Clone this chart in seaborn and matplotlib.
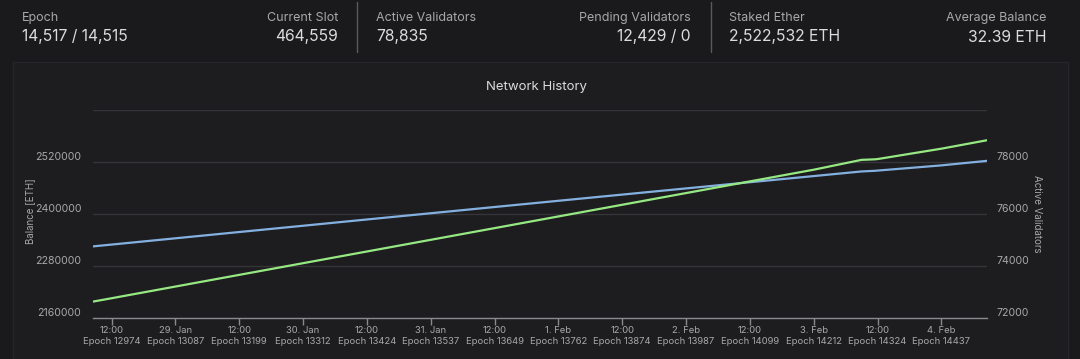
import matplotlib
matplotlib.use("Agg")
import matplotlib.pyplot as plt
from matplotlib.patches import Rectangle
import pandas as pd
import seaborn as sns

# values (Jan/Feb 2021, beacon chain)
times = ["2021-01-28 08:30", "2021-01-28 12:00", "2021-01-29 00:00", "2021-01-29 12:00",
         "2021-01-30 00:00", "2021-01-30 12:00", "2021-01-31 00:00", "2021-01-31 12:00",
         "2021-02-01 00:00", "2021-02-01 12:00", "2021-02-02 00:00", "2021-02-02 12:00",
         "2021-02-03 00:00", "2021-02-03 09:00", "2021-02-03 11:30", "2021-02-03 12:00",
         "2021-02-04 00:00", "2021-02-04 08:35"]
balance = [2324800, 2329000, 2343500, 2358000, 2372500, 2387000, 2401400, 2415800,
           2430200, 2444500, 2458800, 2473100, 2487300, 2498000, 2499500, 2500000,
           2512000, 2522500]
validators = [72620, 72750, 73200, 73650, 74100, 74550, 75000, 75450,
              75900, 76350, 76800, 77250, 77700, 78080, 78100, 78110,
              78510, 78835]

tick_times = ["2021-01-28 12:00", "2021-01-29 00:00", "2021-01-29 12:00", "2021-01-30 00:00",
              "2021-01-30 12:00", "2021-01-31 00:00", "2021-01-31 12:00", "2021-02-01 00:00",
              "2021-02-01 12:00", "2021-02-02 00:00", "2021-02-02 12:00", "2021-02-03 00:00",
              "2021-02-03 12:00", "2021-02-04 00:00"]
tick_labels = ["12:00\nEpoch 12974", "29. Jan\nEpoch 13087", "12:00\nEpoch 13199",
               "30. Jan\nEpoch 13312", "12:00\nEpoch 13424", "31. Jan\nEpoch 13537",
               "12:00\nEpoch 13649", "1. Feb\nEpoch 13762", "12:00\nEpoch 13874",
               "2. Feb\nEpoch 13987", "12:00\nEpoch 14099", "3. Feb\nEpoch 14212",
               "12:00\nEpoch 14324", "4. Feb\nEpoch 14437"]

balance_ticks = [2160000, 2280000, 2400000, 2520000, 2640000]
validator_ticks = [72000, 74000, 76000, 78000, 80000]

stat_labels = ["Epoch", "Current Slot", "Active Validators",
               "Pending Validators", "Staked Ether", "Average Balance"]
stat_values = ["14,517 / 14,515", "464,559", "78,835",
               "12,429 / 0", "2,522,532 ETH", "32.39 ETH"]

BG = "#1a191c"
CARD = "#1d1c1f"
TXT = "#dcdcdc"
SUB = "#a8a8a8"
GRID = "#353438"

sns.set_theme(style="dark")
plt.rcParams["font.family"] = ["Inter", "DejaVu Sans"]

df = pd.DataFrame({"time": pd.to_datetime(times), "balance": balance, "validators": validators})

W, H = 1080, 359
fig = plt.figure(figsize=(W / 100, H / 100), dpi=100, facecolor=BG)

# chart card
fig.patches.append(Rectangle((13 / W, -0.01), (1068 - 13) / W, (H - 62) / H + 0.01,
                             transform=fig.transFigure, facecolor=CARD,
                             edgecolor="#262529", lw=1, zorder=-5))

# header stats
pos = [(22, "left"), (338, "right"), (376, "left"), (691, "right"), (729, "left"), (1046, "right")]
for (x, ha), lab, val in zip(pos, stat_labels, stat_values):
    fig.text(x / W, 1 - 18 / H, lab, ha=ha, va="center", color=SUB, fontsize=9)
    fig.text(x / W, 1 - 37 / H, val, ha=ha, va="center", color=TXT, fontsize=11.3)
for x in (357, 711):
    fig.add_artist(plt.Line2D([x / W, x / W], [1 - 2 / H, 1 - 52 / H], color="#5a595d", lw=1))

ax = fig.add_axes([93 / W, 41.3 / H, 894 / W, 207.7 / H])
ax.set_facecolor("none")
sns.lineplot(data=df, x="time", y="balance", ax=ax, color="#84b0e0", lw=1.6)
ax2 = ax.twinx()
sns.lineplot(data=df, x="time", y="validators", ax=ax2, color="#96e882", lw=1.6)

ax.set_xlim(df["time"].iloc[0], df["time"].iloc[-1])
ax.set_ylim(balance_ticks[0], balance_ticks[-1])
ax2.set_ylim(validator_ticks[0], validator_ticks[-1])

ax.set_xticks(pd.to_datetime(tick_times))
ax.set_xticklabels(tick_labels, fontsize=6.8, color=SUB, linespacing=1.25)
ax.tick_params(axis="x", length=5, width=1, color="#8a8a8e", direction="out", pad=1, bottom=True)

ax.set_yticks(balance_ticks)
ax.set_yticklabels([str(v) for v in balance_ticks[:-1]] + [""], fontsize=7.6, color=SUB)
ax.tick_params(axis="y", length=0, pad=8.5)
ax2.set_yticks(validator_ticks)
ax2.set_yticklabels([str(v) for v in validator_ticks[:-1]] + [""], fontsize=7.6, color=SUB)
ax2.tick_params(axis="y", length=0, pad=7)
for t in ax.yaxis.get_major_ticks() + ax2.yaxis.get_major_ticks():
    t.label1.set_va("bottom")
    t.label2.set_va("bottom")

ax.grid(axis="y", color=GRID, lw=1)
ax.grid(axis="x", visible=False)
ax2.grid(False)
ax2.patch.set_visible(False)
for a in (ax, ax2):
    for s in ("top", "left", "right", "bottom"):
        a.spines[s].set_visible(False)
ax.spines["bottom"].set_visible(True)
ax.spines["bottom"].set_color("#8a8a8e")
ax.spines["bottom"].set_linewidth(1)

ax.set_xlabel("")
ax.set_ylabel("Balance [ETH]", color=SUB, fontsize=7)
ax.yaxis.set_label_coords(-0.065, 0.514)
ax2.set_ylabel("Active Validators", color=SUB, fontsize=7, rotation=270, va="center")
ax2.yaxis.set_label_coords(1.056, 0.5)

fig.text(536 / W, 1 - 87 / H, "Network History", ha="center", va="center", color=TXT, fontsize=9.5)

fig.savefig("out.png", dpi=100, facecolor=BG)
